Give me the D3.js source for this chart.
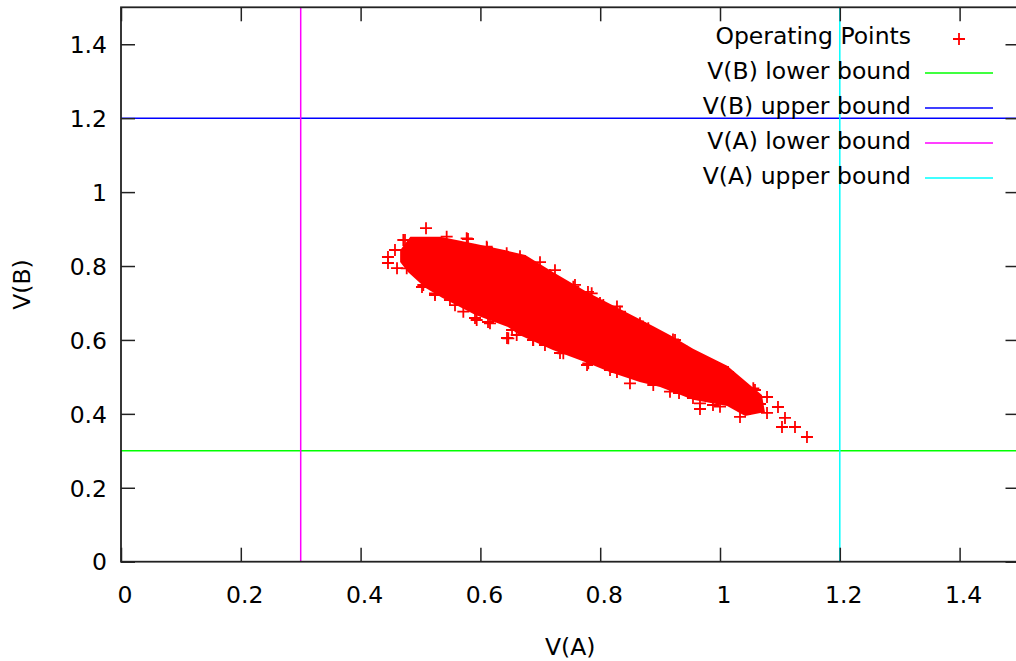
<!DOCTYPE html>
<html>
<head>
<meta charset="utf-8">
<script src="https://cdnjs.cloudflare.com/ajax/libs/d3/7.8.5/d3.min.js"></script>
<style>
  body { margin: 0; background: #fff; }
  text { font-family: "DejaVu Sans", sans-serif; fill: #000; }
</style>
</head>
<body>
<script>
// ticks
var xTicks = [0, 0.2, 0.4, 0.6, 0.8, 1, 1.2, 1.4];
var yTicks = [0, 0.2, 0.4, 0.6, 0.8, 1, 1.2, 1.4];
var tickLabels = ["0", "0.2", "0.4", "0.6", "0.8", "1", "1.2", "1.4"];

// bounds
var vbLower = 0.3, vbUpper = 1.2, vaLower = 0.3, vaUpper = 1.2;

// dense core of the operating points cloud (outline)
var coreOutline = [
  [0.466,0.843],[0.483,0.879],[0.533,0.879],[0.591,0.860],[0.646,0.841],[0.675,0.830],
  [0.721,0.784],[0.778,0.730],[0.833,0.684],[0.888,0.638],[0.917,0.613],[0.955,0.576],
  [1.012,0.530],[1.050,0.478],[1.070,0.451],
  [1.075,0.405],[1.042,0.394],[1.012,0.421],[0.955,0.438],[0.900,0.473],[0.866,0.486],
  [0.816,0.513],[0.778,0.538],[0.721,0.573],[0.666,0.613],[0.646,0.635],[0.591,0.668],
  [0.536,0.714],[0.508,0.741],[0.479,0.784],[0.466,0.811]
];

// single visible operating points around the core (V(A), V(B))
var pointsA = [0.4457,0.4457,0.5092,0.4741,0.5793,0.6110,0.7579,0.7796,0.7997,0.8280,
               0.8497,0.8715,0.9215,0.9716,0.9950,1.0134,0.6878,0.7329,0.7780,0.8280,
               0.9316,0.9549,0.9883,0.4791,0.5025,0.5242,0.5910,0.6127,0.6528,0.6444,
               0.9666,1.0334,1.0584,1.0785,1.0785,1.0968,1.1085,1.1035,1.1252,1.1452,
               0.6661,0.6995,0.7245,0.4608,0.5576,0.7078,0.8831,1.0501,1.0668,
               0.4574,0.4713,0.5437,0.5771,0.6105,0.6439,0.6716,0.6940,0.7162,0.7551,
               0.7858,0.8052,0.8331,0.8664,0.8803,0.8998,0.9249,0.9444,0.9721,0.9945,
               1.0222,1.0556,
               0.4770,0.5047,0.5242,0.5492,0.5715,0.5938,0.6160,0.6466,0.6606,0.6883,
               0.7384,0.7801,0.8164,0.8497,0.8886,0.9165,0.9666,1.0000,1.0446];
var pointsB = [0.8244,0.8082,0.9024,0.8704,0.8731,0.8488,0.7489,0.7300,0.7000,0.6905,
               0.6499,0.6364,0.6012,0.5376,0.5268,0.5133,0.5998,0.5647,0.5322,0.5133,
               0.4565,0.4429,0.4240,0.8082,0.7433,0.7216,0.6594,0.6486,0.6269,0.6053,
               0.4132,0.3916,0.4646,0.4456,0.4024,0.4186,0.3889,0.3645,0.3645,0.3374,
               0.8266,0.8104,0.7888,0.7941,0.6940,0.5863,0.4916,0.4132,0.4267,
               0.8434,0.8704,0.8793,0.8750,0.8523,0.8344,0.8117,0.7938,0.7757,0.7440,
               0.7262,0.6945,0.6764,0.6450,0.6315,0.6044,0.5998,0.5682,0.5411,0.5233,
               0.4962,0.4692,
               0.7938,0.7486,0.7262,0.7081,0.6764,0.6540,0.6450,0.6044,0.6134,0.5998,
               0.5639,0.5368,0.5187,0.4827,0.4781,0.4600,0.4286,0.4194,0.4375];

var legendNames = ["Operating Points", "V(B) lower bound", "V(B) upper bound", "V(A) lower bound", "V(A) upper bound"];
var legendColors = ["#ff0000", "#00ff00", "#0000ff", "#ff00ff", "#00ffff"];

var W = 1016, H = 661;
var pLeft = 121, pRight = 1019.5, pTop = 7.3, pBottom = 561.7;
var fontSize = "23.5px";

var svg = d3.select("body").append("svg")
                           .attr("width", W)
                           .attr("height", H);

var x = d3.scaleLinear().domain([0, 1.5]).range([pLeft, pRight]);
var y = d3.scaleLinear().domain([0, 1.5]).range([pBottom, pTop]);

// operating points
var red = "#ff0000";
svg.append("path")
   .datum(coreOutline)
   .attr("d", d3.line().x(function(d){ return x(d[0]); }).y(function(d){ return y(d[1]); }).curve(d3.curveLinearClosed))
   .style("fill", red);

var pts = pointsA.map(function(a, i){ return [a, pointsB[i]]; });
var plus = "M-6,0H6M0,-6V6";
svg.append("g").selectAll("path")
   .data(pts)
   .enter().append("path")
   .attr("transform", function(d){ return "translate(" + x(d[0]) + "," + y(d[1]) + ")"; })
   .attr("d", plus)
   .style("stroke", red)
   .style("stroke-width", 1.8)
   .style("fill", "none");

// bound lines, same order as the legend
svg.append("line").attr("x1", pLeft).attr("x2", pRight).attr("y1", y(vbLower)).attr("y2", y(vbLower))
   .style("stroke", legendColors[1]).style("stroke-width", 1.5);
svg.append("line").attr("x1", pLeft).attr("x2", pRight).attr("y1", y(vbUpper)).attr("y2", y(vbUpper))
   .style("stroke", legendColors[2]).style("stroke-width", 1.5);
svg.append("line").attr("x1", x(vaLower)).attr("x2", x(vaLower)).attr("y1", pTop).attr("y2", pBottom)
   .style("stroke", legendColors[3]).style("stroke-width", 1.5);
svg.append("line").attr("x1", x(vaUpper)).attr("x2", x(vaUpper)).attr("y1", pTop).attr("y2", pBottom)
   .style("stroke", legendColors[4]).style("stroke-width", 1.5);

// axes (ticks inward on all four sides)
var gx = svg.append("g").attr("transform", "translate(0," + pBottom + ")")
            .call(d3.axisBottom(x).tickValues(xTicks).tickSizeInner(-14).tickSizeOuter(0)
                    .tickFormat(function(d){ return tickLabels[xTicks.indexOf(d)]; }));
gx.selectAll("text").attr("y", 33).attr("dx", 3.5).attr("dy", "0.35em");

var gy = svg.append("g").attr("transform", "translate(" + pLeft + ",0)")
            .call(d3.axisLeft(y).tickValues(yTicks).tickSizeInner(-14).tickSizeOuter(0)
                    .tickFormat(function(d){ return tickLabels[yTicks.indexOf(d)]; }));
gy.selectAll("text").attr("x", -14).attr("dy", "0.35em");

svg.append("g").attr("transform", "translate(0," + pTop + ")")
   .call(d3.axisTop(x).tickValues(xTicks).tickSizeInner(-14).tickSizeOuter(0).tickFormat(""));
svg.append("g").attr("transform", "translate(" + pRight + ",0)")
   .call(d3.axisRight(y).tickValues(yTicks).tickSizeInner(-14).tickSizeOuter(0).tickFormat(""));

svg.selectAll(".domain").remove();
svg.selectAll(".tick line").style("stroke", "#222").style("stroke-width", 1.5);
svg.selectAll(".tick text").style("font-size", fontSize).style("font-family", "DejaVu Sans");

svg.append("rect")
   .attr("x", pLeft).attr("y", pTop)
   .attr("width", pRight - pLeft).attr("height", pBottom - pTop)
   .style("fill", "none")
   .style("stroke", "#222")
   .style("stroke-width", 1.8);

// axis titles
svg.append("text")
   .attr("x", (pLeft + pRight) / 2).attr("y", 647)
   .attr("dy", "0.35em")
   .attr("text-anchor", "middle")
   .style("font-size", fontSize)
   .text("V(A)");

svg.append("text")
   .attr("transform", "translate(22," + (pTop + pBottom) / 2 + ") rotate(-90)")
   .attr("dy", "0.35em")
   .attr("text-anchor", "middle")
   .style("font-size", fontSize)
   .text("V(B)");

// legend
var legend = svg.append("g").selectAll("g")
                .data(legendNames)
                .enter().append("g")
                .attr("transform", function(d, i){ return "translate(0," + (36 + i * 35) + ")"; });

legend.append("text")
      .attr("x", 911)
      .attr("dy", "0.35em")
      .attr("text-anchor", "end")
      .style("font-size", fontSize)
      .text(function(d){ return d; });

legend.filter(function(d, i){ return i > 0; })
      .append("line")
      .attr("x1", 925).attr("x2", 993).attr("y1", 2).attr("y2", 2)
      .style("stroke", function(d, i){ return legendColors[i + 1]; })
      .style("stroke-width", 1.5);

legend.filter(function(d, i){ return i == 0; })
      .append("path")
      .attr("transform", "translate(959,3)")
      .attr("d", plus)
      .style("stroke", red)
      .style("stroke-width", 1.8);
</script>
</body>
</html>
